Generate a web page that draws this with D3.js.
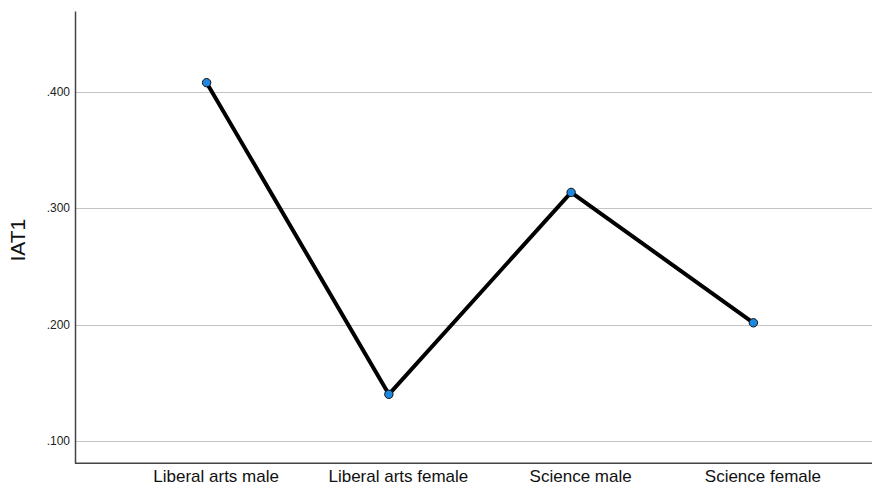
<!DOCTYPE html>
<html>
<head>
<meta charset="utf-8">
<script src="https://cdn.jsdelivr.net/npm/d3@7"></script>
<style>
  html, body { margin: 0; padding: 0; background: #fff; }
  svg { display: block; font-family: "Liberation Sans", Arial, sans-serif; }
</style>
</head>
<body>
<svg id="chart" width="872" height="485"></svg>
<script>
const categories = ["Liberal arts male", "Liberal arts female", "Science male", "Science female"];
const values = [0.4076, 0.1401, 0.3134, 0.2015];
const yTicks = [0.1, 0.2, 0.3, 0.4];
const yLabel = "IAT1";

(function () {
const svg = d3.select("#chart");
const W = 872, H = 485;
const mLeft = 75, mTop = 11, mBottom = 463.3;

const x = d3.scalePoint().domain(categories).range([mLeft, 885]).padding(0.722);
const y = d3.scaleLinear().domain([0.0809, 0.4691]).range([mBottom, mTop]);

// gridlines
svg.append("g").selectAll("line").data(yTicks).join("line")
  .attr("x1", mLeft).attr("x2", W)
  .attr("y1", d => Math.round(y(d)) + 0.5).attr("y2", d => Math.round(y(d)) + 0.5)
  .attr("stroke", "#c4c4c4").attr("stroke-width", 1.2);

// y axis
const yAxis = d3.axisLeft(y).tickValues(yTicks).tickSize(0).tickPadding(5)
  .tickFormat(d => d3.format(".3f")(d).replace(/^0/, ""));
const gy = svg.append("g").attr("transform", `translate(${mLeft},0)`).call(yAxis);
gy.select(".domain").attr("stroke", "#444").attr("stroke-width", 1.5);
gy.selectAll("text").attr("font-size", 12).attr("fill", "#222")
  .attr("font-family", "Liberation Sans, Arial, sans-serif");

// x axis
const xAxis = d3.axisBottom(x).tickSize(0).tickPadding(7);
const gx = svg.append("g").attr("transform", `translate(0,${mBottom})`).call(xAxis);
gx.select(".domain").attr("d", `M${mLeft},0H${W}`).attr("stroke", "#444").attr("stroke-width", 1.5);
gx.selectAll("text").attr("font-size", 17).attr("fill", "#111").attr("dx", 9)
  .attr("font-family", "Liberation Sans, Arial, sans-serif");

// y label
svg.append("text")
  .attr("transform", `translate(25,${(mTop + mBottom) / 2 + 3}) rotate(-90)`)
  .attr("text-anchor", "middle")
  .attr("font-size", 21).attr("fill", "#111")
  .attr("font-family", "Liberation Sans, Arial, sans-serif")
  .text(yLabel);

// line
const data = categories.map((c, i) => ({ c, v: values[i] }));
svg.append("path").datum(data)
  .attr("fill", "none").attr("stroke", "#000").attr("stroke-width", 4)
  .attr("stroke-linejoin", "round")
  .attr("d", d3.line().x(d => x(d.c)).y(d => y(d.v)));

// markers
svg.append("g").selectAll("circle").data(data).join("circle")
  .attr("cx", d => x(d.c)).attr("cy", d => y(d.v)).attr("r", 4.2)
  .attr("fill", "#1e88e0").attr("stroke", "#111").attr("stroke-width", 1);
})();
</script>
</body>
</html>
